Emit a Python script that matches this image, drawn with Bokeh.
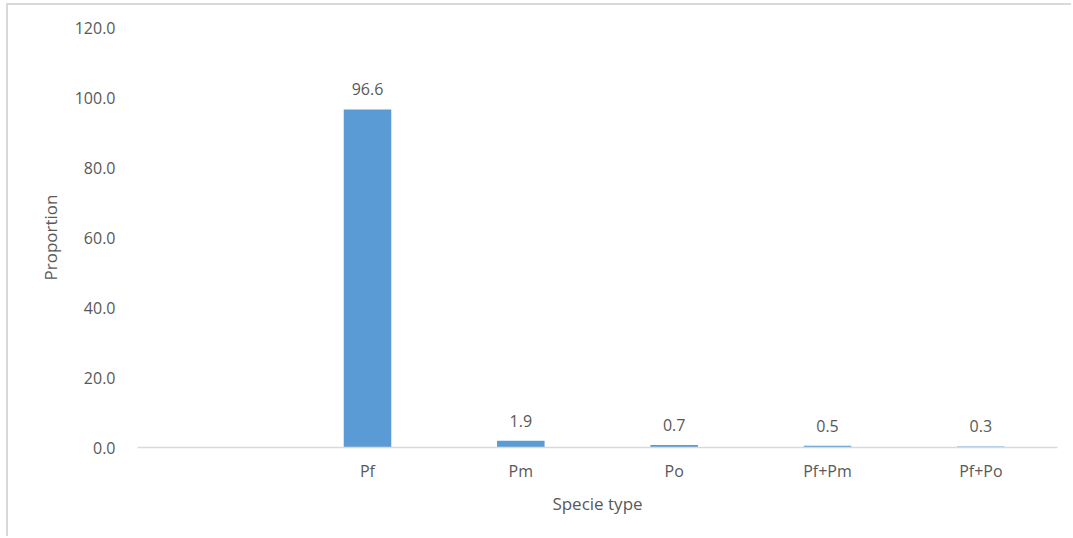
from bokeh.plotting import figure
from bokeh.models import ColumnDataSource, FactorRange, LabelSet, NumeralTickFormatter, Range1d
from bokeh.core.properties import value
from bokeh.embed import file_html
from bokeh.resources import INLINE

# Plasmodium species distribution
slots = [" ", "Pf", "Pm", "Po", "Pf+Pm", "Pf+Po"]
species = ["Pf", "Pm", "Po", "Pf+Pm", "Pf+Po"]
proportion = [96.6, 1.9, 0.7, 0.5, 0.3]

src = ColumnDataSource(dict(
    species=species,
    proportion=proportion,
    label=[f"{v:.1f}" for v in proportion],
))

FONT = "Open Sans"
GREY = "#595959"

p = figure(
    x_range=FactorRange(*slots, range_padding=0.0),
    y_range=Range1d(0, 120),
    width=1065, height=533,
    output_backend="svg", toolbar_location=None,
    min_border_left=129, min_border_right=16,
    min_border_top=22, min_border_bottom=91,
)
p.styles = {
    "margin-left": "6px", "margin-top": "3px",
    "border-left": "2px solid #d9d9d9", "border-top": "2px solid #d9d9d9",
}

p.vbar(x="species", top="proportion", width=0.31, source=src,
       fill_color="#5b9bd5", line_color=None)

p.add_layout(LabelSet(x="species", y="proportion", text="label", source=src,
                      y_offset=14, text_align="center", text_baseline="bottom",
                      text_font=value(FONT), text_font_size="16px", text_color=GREY))

p.outline_line_color = None
p.xgrid.grid_line_color = None
p.ygrid.grid_line_color = None
p.background_fill_color = "white"
p.border_fill_color = "white"

p.yaxis.ticker = [0, 20, 40, 60, 80, 100, 120]
p.yaxis.formatter = NumeralTickFormatter(format="0.0")
p.yaxis.axis_line_color = None
p.yaxis.major_tick_line_color = None
p.yaxis.minor_tick_line_color = None
p.yaxis.major_label_standoff = 16
p.yaxis.axis_label = "Proportion"
p.yaxis.axis_label_standoff = 10

p.xaxis.axis_line_color = "#d9d9d9"
p.xaxis.axis_line_width = 1.5
p.xaxis.major_tick_line_color = None
p.xaxis.minor_tick_line_color = None
p.xaxis.major_label_standoff = 6
p.xaxis.axis_label = "Specie type"
p.xaxis.axis_label_standoff = 7

for ax in (p.xaxis[0], p.yaxis[0]):
    ax.major_label_text_font = FONT
    ax.major_label_text_font_size = "16px"
    ax.major_label_text_color = GREY
    ax.axis_label_text_font = FONT
    ax.axis_label_text_font_size = "17px"
    ax.axis_label_text_font_style = "normal"
    ax.axis_label_text_color = GREY

open("out.html", "w").write(file_html(p, INLINE))
